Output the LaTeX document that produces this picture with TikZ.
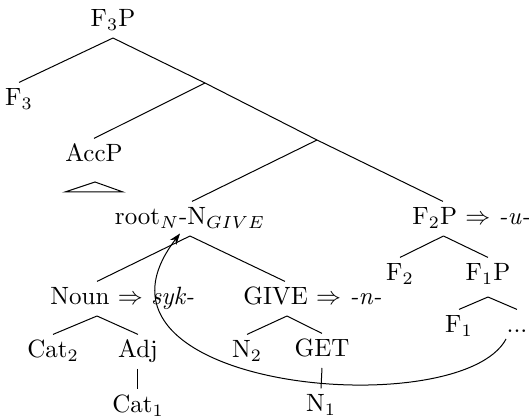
\documentclass[tikz,border=0pt]{standalone}
\usetikzlibrary{arrows.meta}
\begin{document}
\begin{tikzpicture}[x=0.4pt,y=-0.4pt,
  lab/.style={inner xsep=0pt, inner ysep=2.4pt, text height=6.83pt, text depth=1.8pt, anchor=base},
  mv/.style={-{Stealth[length=4.5pt,width=3.2pt]}}]
\useasboundingbox (0,0) rectangle (529,419);
% nodes
\node[lab] (F3P) at (113,27) {F$_3$P};
\node[lab] (F3) at (19,106) {F$_3$};
\node[lab] (AccP) at (94,162) {AccP};
\node[lab] (root) at (190,225) {root$_N$-N$_{GIVE}$};
\node[lab, anchor=base west] (F2P) at (412,225) {F$_2$P $\Rightarrow$ \textit{-u-}};
\node[lab] (F2) at (400,281) {F$_2$};
\node[lab] (F1P) at (488,281) {F$_1$P};
\node[lab] (F1) at (459,333) {F$_1$};
\node[lab] (dots) at (517,333) {...};
\node[lab, anchor=base west] (Noun) at (50,305) {Noun $\Rightarrow$ \textit{syk-}};
\node[lab, anchor=base west] (GIVE) at (243,305) {GIVE $\Rightarrow$ \textit{-n-}};
\node[lab] (Cat2) at (53,358) {Cat$_2$};
\node[lab] (Adj) at (138,358) {Adj};
\node[lab] (Cat1) at (138,413) {Cat$_1$};
\node[lab] (N2) at (247,358) {N$_2$};
\node[lab] (GET) at (322,357) {GET};
\node[lab] (N1) at (321,412) {N$_1$};
\coordinate (b1) at (205,83);
\coordinate (b2) at (317,140);
% tree lines
\draw (F3P.south) -- (F3.north);
\draw (F3P.south) -- (b1) -- (b2);
\draw (b1) -- (AccP.north);
\draw (b2) -- ([xshift=0.8pt]root.north);
\draw (b2) -- ([xshift=12.4pt]F2P.north west);
\draw ([xshift=12.6pt]F2P.south west) -- (F2.north);
\draw ([xshift=12.6pt]F2P.south west) -- (F1P.north);
\draw ([yshift=-2pt]F1P.south) -- (F1.north);
\draw ([yshift=-2pt]F1P.south) -- (dots.north);
\draw (root.south) -- ([xshift=18.8pt]Noun.north west);
\draw (root.south) -- ([xshift=16.8pt]GIVE.north west);
\draw ([xshift=18.8pt]Noun.south west) -- (Cat2.north);
\draw ([xshift=18.8pt]Noun.south west) -- (Adj.north);
\draw (Adj.south) -- (Cat1.north);
\draw ([xshift=17.6pt]GIVE.south west) -- (N2.north);
\draw ([xshift=17.6pt]GIVE.south west) -- (GET.north);
\draw (GET.south) -- (N1.north);
% triangle under AccP
\draw (95,182) -- (65,192) -- (123,192) -- cycle;
% movement arrow
\draw[mv] ([yshift=2pt]dots.south west) .. controls (460,425) and (60,390) .. ([xshift=-4pt,yshift=1pt]root.south);
\end{tikzpicture}
\end{document}
